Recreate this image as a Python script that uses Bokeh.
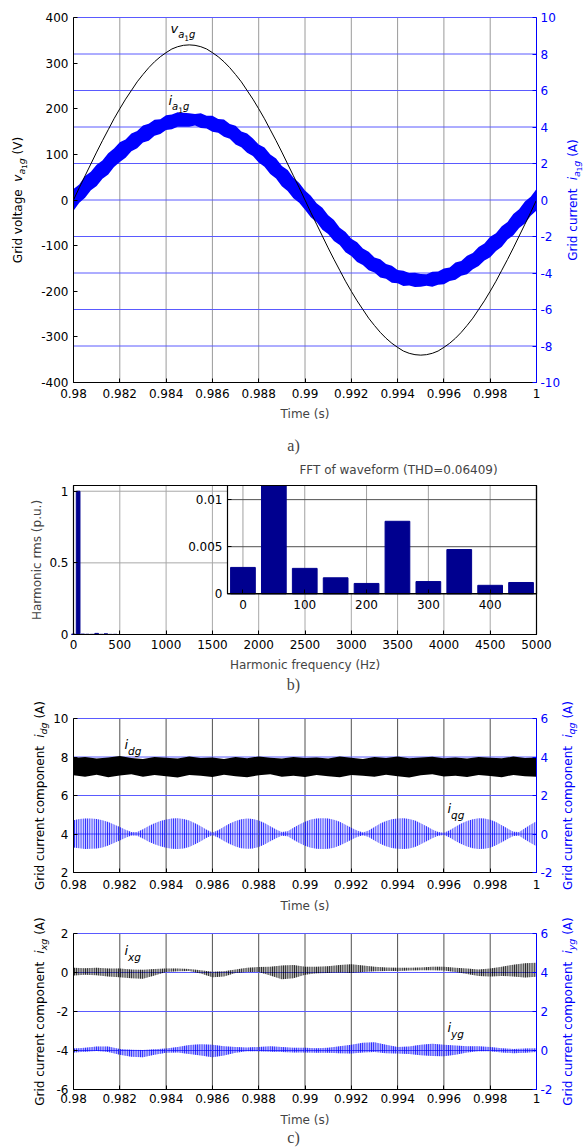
from math import pi
import numpy as np
from bokeh.plotting import figure
from bokeh.models import Range1d, LinearAxis, FixedTicker, Label, CustomJSTickFormatter
from bokeh.layouts import column
from bokeh.embed import file_html
from bokeh.resources import INLINE

# ---------------- data ----------------
t_fine = np.linspace(0.98, 1.0, 81)      # 0.25 ms sampling
t_coarse = np.linspace(0.98, 1.0, 41)    # 0.5 ms sampling

# a) grid voltage (V) and the envelope of the grid current ripple band (A)
v_a1g = [0, 27, 53, 79, 105, 130, 154, 178, 200, 221, 240, 259, 275, 290, 303, 314, 323, 331, 336, 339,
         340, 339, 336, 331, 323, 314, 303, 290, 275, 259, 240, 221, 200, 178, 154, 130, 105, 79, 53, 27,
         0, -27, -53, -79, -105, -130, -154, -178, -200, -221, -240, -259, -275, -290, -303, -314, -323,
         -331, -336, -339, -340, -339, -336, -331, -323, -314, -303, -290, -275, -259, -240, -221, -200,
         -178, -154, -130, -105, -79, -53, -27, 0]
i_a1g_upper = [0.60, 0.85, 1.31, 1.55, 1.93, 2.16, 2.56, 2.82, 3.16, 3.32, 3.65, 3.78, 4.08, 4.18, 4.40,
               4.43, 4.64, 4.68, 4.81, 4.78, 4.76,
               4.71, 4.75, 4.61, 4.61, 4.44, 4.41, 4.17, 4.07, 3.76, 3.64, 3.37, 3.04, 2.88, 2.49, 2.27,
               1.86, 1.64, 1.22, 0.93, 0.52,
               0.23, -0.18, -0.43, -0.84, -1.09, -1.52, -1.75, -2.12, -2.31, -2.66, -2.83, -3.15, -3.25,
               -3.51, -3.60, -3.83, -3.87, -4.00, -3.98, -4.05,
               -4.07, -3.93, -3.92, -3.75, -3.70, -3.43, -3.34, -3.06, -2.91, -2.58, -2.38, -2.02, -1.82,
               -1.44, -1.20, -0.77, -0.51, -0.08, 0.18, 0.60]
i_a1g_lower = [-0.59, -0.15, 0.12, 0.54, 0.77, 1.17, 1.40, 1.81, 2.08, 2.32, 2.67, 2.84, 3.15, 3.25, 3.52,
               3.61, 3.84, 3.88, 4.02, 4.01, 4.02,
               4.08, 3.95, 3.92, 3.74, 3.69, 3.46, 3.36, 3.04, 2.89, 2.59, 2.41, 2.05, 1.82, 1.42, 1.18,
               0.76, 0.50, 0.10, -0.15, -0.53,
               -0.94, -1.21, -1.63, -1.86, -2.25, -2.47, -2.86, -3.07, -3.40, -3.56, -3.85, -3.97, -4.24,
               -4.32, -4.54, -4.56, -4.71, -4.68, -4.77, -4.75,
               -4.70, -4.75, -4.64, -4.61, -4.44, -4.37, -4.15, -4.07, -3.79, -3.62, -3.31, -3.14, -2.79,
               -2.56, -2.17, -1.93, -1.53, -1.29, -0.86, -0.57]

# b) harmonic spectrum (p.u. of fundamental)
harm_freq = [0, 50, 100, 150, 200, 250, 300, 350, 400, 450]
harm_rms = [0.0028, 1.0, 0.0027, 0.0017, 0.0011, 0.0077, 0.0013, 0.0047, 0.0009, 0.0012]

# c) dq and xy current components: envelopes of the ripple bands (A)
idg_upper = [7.95, 8.0, 7.92, 7.98, 8.05, 7.95, 7.9, 8.0, 7.96, 7.92, 8.02, 7.95, 7.98, 7.9, 8.0, 7.94,
             8.03, 7.96, 7.92, 8.0, 7.95, 7.98, 7.92, 8.02, 7.96, 7.9, 8.0, 7.95, 8.03, 7.93, 7.97, 8.01,
             7.94, 7.98, 7.92, 8.0, 7.96, 7.93, 8.02, 7.95, 7.98]
idg_lower = [7.05, 6.98, 7.08, 6.95, 7.04, 7.1, 6.97, 7.06, 7.0, 6.94, 7.07, 7.02, 6.96, 7.08, 7.0, 6.95,
             7.05, 7.1, 6.98, 7.03, 6.96, 7.07, 7.0, 6.95, 7.06, 7.02, 6.97, 7.08, 7.0, 6.94, 7.05, 7.1,
             6.99, 7.03, 6.96, 7.06, 7.01, 6.95, 7.07, 7.0, 6.98]
iqg_upper = [0.72, 0.78, 0.80, 0.80, 0.78, 0.72, 0.62, 0.50, 0.36, 0.22, 0.10, 0.10, 0.25, 0.42, 0.56,
             0.67, 0.75, 0.80, 0.82, 0.78, 0.70, 0.56, 0.40, 0.22, 0.08, 0.20, 0.38, 0.55, 0.68, 0.77,
             0.80, 0.78, 0.70, 0.57, 0.40, 0.24, 0.10, 0.14, 0.32, 0.50, 0.64, 0.75, 0.80, 0.82, 0.80,
             0.74, 0.63, 0.48, 0.32, 0.18, 0.08, 0.18, 0.36, 0.54, 0.67, 0.76, 0.80, 0.82, 0.78, 0.70,
             0.56, 0.40, 0.24, 0.10, 0.06, 0.20, 0.38, 0.55, 0.68, 0.77, 0.82, 0.80, 0.74, 0.62, 0.46,
             0.28, 0.12, 0.10, 0.30, 0.50, 0.66]
iqg_lower = [-0.70, -0.74, -0.78, -0.77, -0.75, -0.70, -0.60, -0.47, -0.34, -0.20, -0.08, -0.09, -0.23,
             -0.40, -0.53, -0.64, -0.72, -0.77, -0.78, -0.75, -0.67, -0.53, -0.38, -0.20, -0.07, -0.18,
             -0.36, -0.52, -0.65, -0.74, -0.77, -0.75, -0.67, -0.54, -0.38, -0.22, -0.09, -0.12, -0.30,
             -0.47, -0.61, -0.72, -0.77, -0.78, -0.77, -0.71, -0.60, -0.45, -0.30, -0.16, -0.07, -0.16,
             -0.34, -0.51, -0.64, -0.73, -0.77, -0.78, -0.75, -0.67, -0.53, -0.38, -0.22, -0.09, -0.05,
             -0.18, -0.36, -0.52, -0.65, -0.74, -0.78, -0.77, -0.71, -0.59, -0.43, -0.26, -0.10, -0.09,
             -0.28, -0.47, -0.63]
ixg_upper = [0.25, 0.22, 0.25, 0.2, 0.2, 0.15, 0.14, 0.18, 0.2, 0.2, 0.18, 0.12, 0.04, 0.06, 0.15, 0.24,
             0.28, 0.3, 0.36, 0.38, 0.3, 0.3, 0.32, 0.38, 0.42, 0.36, 0.3, 0.26, 0.24, 0.24, 0.26, 0.3,
             0.3, 0.24, 0.2, 0.16, 0.2, 0.3, 0.4, 0.48, 0.5]
ixg_lower = [-0.15, -0.12, -0.14, -0.2, -0.24, -0.3, -0.32, -0.15, 0.02, 0.06, 0.08, -0.05, -0.24, -0.2,
             -0.02, 0.02, 0.02, -0.15, -0.35, -0.3, -0.12, -0.04, -0.02, 0.0, -0.02, 0.02, 0.06, 0.08,
             0.08, 0.1, 0.12, 0.12, 0.1, 0.02, -0.08, -0.18, -0.2, -0.18, -0.2, -0.26, -0.22]
iyg_upper = [0.1, 0.14, 0.2, 0.2, 0.08, 0.04, 0.02, 0.06, 0.1, 0.18, 0.28, 0.32, 0.3, 0.22, 0.18, 0.16,
             0.18, 0.22, 0.18, 0.14, 0.14, 0.12, 0.14, 0.22, 0.3, 0.4, 0.42, 0.3, 0.18, 0.2, 0.3, 0.34,
             0.3, 0.26, 0.22, 0.22, 0.18, 0.12, 0.08, 0.1, 0.12]
iyg_lower = [-0.1, -0.06, -0.02, -0.08, -0.22, -0.32, -0.34, -0.22, -0.12, -0.1, -0.18, -0.26, -0.34,
             -0.26, -0.12, -0.04, -0.04, -0.06, -0.08, -0.1, -0.1, -0.12, -0.12, -0.14, -0.16, -0.1,
             -0.08, -0.14, -0.16, -0.18, -0.24, -0.28, -0.3, -0.22, -0.1, -0.04, -0.04, -0.1, -0.14,
             -0.12, -0.08]

# tick values
time_ticks = [0.98, 0.982, 0.984, 0.986, 0.988, 0.99, 0.992, 0.994, 0.996, 0.998, 1.0]
volt_ticks = [-400, -300, -200, -100, 0, 100, 200, 300, 400]
amp_ticks_a = [-10, -8, -6, -4, -2, 0, 2, 4, 6, 8, 10]
freq_ticks = [0, 500, 1000, 1500, 2000, 2500, 3000, 3500, 4000, 4500, 5000]
rms_ticks = [0, 0.5, 1]
inset_x_ticks = [0, 100, 200, 300, 400]
inset_y_ticks = [0, 0.005, 0.01]
dg_ticks = [2, 4, 6, 8, 10]
qg_ticks = [-2, 0, 2, 4, 6]
xg_ticks = [-6, -4, -2, 0, 2]
yg_ticks = [-2, 0, 2, 4, 6]

# ---------------- styling / layout helpers ----------------
W = 583
BL, BR = 73, 536          # plot box left / right edge on the page
FONT = "DejaVu Sans"
TICK_PX = "12px"
BLUE = "#0000ff"
GRID_BLUE = "#5a5aff"
NAVY = "#00008f"

# DejaVu Sans advance widths (1/1000 em) for laying out mixed-style labels
DV = {' ': 318, '(': 390, ')': 390, '.': 318, 'A': 684, 'G': 775, 'V': 684, 'a': 613, 'c': 550,
      'd': 635, 'e': 615, 'g': 635, 'i': 278, 'l': 278, 'm': 974, 'n': 634, 'o': 612, 'p': 635,
      'q': 635, 'r': 411, 't': 392, 'u': 634, 'v': 592, 'x': 592, 'y': 592}
for _d in "0123456789":
    DV[_d] = 636


def tw(s, size):
    return sum(DV.get(c, 600) for c in s) * size / 1000.0


class Panel:
    """A figure whose frame fills the canvas; the plot box is placed by the ranges."""

    def __init__(self, fig_top, fig_h, box_top, box_bot, xr, yr, left=BL, right=BR):
        self.top, self.h = fig_top, fig_h
        self.box_top, self.box_bot = box_top, box_bot
        self.left, self.right = left, right
        self.p = figure(width=W, height=fig_h, x_range=self.xrange(xr), y_range=self.yrange(yr),
                        output_backend="svg", toolbar_location=None, title=None, min_border=0,
                        x_axis_location=None, y_axis_location=None)
        self.p.xgrid.visible = False
        self.p.ygrid.visible = False
        self.p.outline_line_color = None
        self.p.background_fill_color = "white"
        self.p.border_fill_color = "white"

    def xrange(self, xr, left=None, right=None):
        left = self.left if left is None else left
        right = self.right if right is None else right
        s = (xr[1] - xr[0]) / (right - left)
        return Range1d(xr[0] - left * s, xr[1] + (W - right) * s)

    def yrange(self, yr, top=None, bot=None):
        top = self.box_top if top is None else top
        bot = self.box_bot if bot is None else bot
        s = (yr[1] - yr[0]) / (bot - top)
        return Range1d(yr[0] - (self.top + self.h - bot) * s, yr[1] + (top - self.top) * s)

    def text(self, px, py, text, **kw):
        kw.setdefault("text_font", FONT)
        kw.setdefault("text_font_size", TICK_PX)
        self.p.add_layout(Label(x=px, y=self.top + self.h - py, x_units="screen", y_units="screen",
                                text=text, **kw))

    def rich(self, runs, x0, y0, vertical=False, color="black", centered=False):
        """Label made of runs (text, size, style, baseline shift)."""
        total = sum(tw(r[0], r[1]) for r in runs)
        pos = -total / 2 if centered else 0.0
        for txt, size, style, shift in runs:
            lead = tw(txt[:len(txt) - len(txt.lstrip())], size)
            start = pos + lead
            if vertical:
                px, py = x0 + shift, y0 - start
            else:
                px, py = x0 + start, y0 + shift
            if txt.strip():
                self.text(px, py, txt.strip(), angle=pi / 2 if vertical else 0,
                          text_font_size=f"{size}px", text_font_style=style, text_color=color,
                          text_align="left", text_baseline="alphabetic")
            pos += tw(txt, size)

    def caption(self, txt, px, py):
        self.text(px, py, txt, text_font="Liberation Serif", text_font_size="16px",
                  text_align="center", text_baseline="middle")

    def axis(self, side, ticks, color="black", standoff=5, x_range_name="default",
             y_range_name="default", loc=None, bounds=None):
        ax = LinearAxis(x_range_name=x_range_name, y_range_name=y_range_name,
                        ticker=FixedTicker(ticks=ticks), fixed_location=loc, bounds=bounds)
        ax.axis_line_color = color
        ax.major_tick_line_color = color
        ax.major_tick_in = 4
        ax.major_tick_out = 0
        ax.minor_tick_line_color = None
        ax.major_label_text_color = color
        ax.major_label_text_font = FONT
        ax.major_label_text_font_size = TICK_PX
        ax.major_label_standoff = standoff
        ax.formatter = CustomJSTickFormatter(code="return String(+tick.toFixed(6));")
        self.p.add_layout(ax, side)
        return ax

    def vlines(self, xs, lo, hi, color, **kw):
        self.p.segment(x0=xs, y0=[lo] * len(xs), x1=xs, y1=[hi] * len(xs), line_color=color,
                       line_width=1, **kw)

    def hlines(self, ys, lo, hi, color, **kw):
        self.p.segment(x0=[lo] * len(ys), y0=ys, x1=[hi] * len(ys), y1=ys, line_color=color,
                       line_width=1, **kw)


def time_panel(fig_top, fig_h, box_top, box_bot, yr, yr2, lticks, rticks, vgrid_color, xstandoff):
    P = Panel(fig_top, fig_h, box_top, box_bot, (0.98, 1.0), yr)
    P.p.extra_y_ranges = {"r": P.yrange(yr2)}
    P.vlines(time_ticks, yr[0], yr[1], vgrid_color)
    P.hlines(rticks, 0.98, 1.0, GRID_BLUE, y_range_name="r")
    P.axis("left", lticks, loc=0.98, bounds=yr)
    P.axis("below", time_ticks, loc=yr[0], bounds=(0.98, 1.0), standoff=xstandoff)
    P.axis("right", rticks, color=BLUE, standoff=4, y_range_name="r", loc=1.0, bounds=yr2)
    return P


# ---------------- a) grid voltage and current ----------------
A = time_panel(0, 458, 17, 382, (-400, 400), (-10, 10), volt_ticks, amp_ticks_a, "#9a9a9a", 6)
A.p.varea(x=t_fine, y1=i_a1g_lower, y2=i_a1g_upper, y_range_name="r", fill_color=BLUE)
A.p.line(t_fine, v_a1g, line_color="black", line_width=1)
A.rich([("v", 13, "italic", 0), ("a", 10, "italic", 6), ("1", 7.5, "normal", 9),
        ("g", 10, "italic", 6)], 170, 28)
A.rich([("i", 13, "italic", 0), ("a", 10, "italic", 6), ("1", 7.5, "normal", 9),
        ("g", 10, "italic", 6)], 168, 100)
A.rich([("Grid voltage  ", 12, "normal", 0), ("v", 12, "italic", 0), ("a", 9.5, "italic", 4),
        ("1", 7, "normal", 6.5), ("g", 9.5, "italic", 4), (" (V)", 12, "normal", 0)],
       17, 199.5, vertical=True, centered=True)
A.rich([("Grid current  ", 12, "normal", 0), ("i", 12, "italic", 0), ("a", 9.5, "italic", 4),
        ("1", 7, "normal", 6.5), ("g", 9.5, "italic", 4), (" (A)", 12, "normal", 0)],
       572, 199.5, vertical=True, color=BLUE, centered=True)
A.text(304.5, 413, "Time (s)", text_align="center", text_baseline="middle")
A.caption("a)", 293, 445)

# ---------------- b) harmonic spectrum with zoomed inset ----------------
B = Panel(458, 242, 485, 634, (0, 5000), (0, 1.04))
pb = B.p
B.vlines(freq_ticks, 0, 1.04, "#a8a8a8")
B.hlines(rms_ticks[1:], 0, 5000, "#a8a8a8")
pb.vbar(x=harm_freq, top=harm_rms, width=40, fill_color=NAVY, line_color=NAVY)

# inset occupying the upper right corner of the plot box
ix_lo, ix_hi = -25, 475
iy_lo, iy_hi = 0, 0.0115
INSET_LEFT, INSET_BOTTOM = 227, 593.3
pb.extra_x_ranges = {"ix": B.xrange((ix_lo, ix_hi), left=INSET_LEFT)}
pb.extra_y_ranges = {"iy": B.yrange((iy_lo, iy_hi), bot=INSET_BOTTOM)}
inset = dict(x_range_name="ix", y_range_name="iy")
pb.quad(left=[ix_lo], right=[ix_hi], bottom=[iy_lo], top=[iy_hi], fill_color="white",
        line_color=None, **inset)
B.vlines(inset_x_ticks, iy_lo, iy_hi, "#a0a0a0", **inset)
B.hlines(inset_y_ticks[1:], ix_lo, ix_hi, "#505050", **inset)
inset_bar_top = [min(v, iy_hi) for v in harm_rms]     # bars end at the inset's upper edge
pb.vbar(x=harm_freq, top=inset_bar_top, width=40, fill_color=NAVY, line_color=NAVY, **inset)
pb.quad(left=[ix_lo], right=[ix_hi], bottom=[iy_lo], top=[iy_hi], fill_color=None,
        line_color="black", line_width=1.2, **inset)
B.axis("left", inset_y_ticks, loc=ix_lo, bounds=(iy_lo, iy_hi), **inset)
B.axis("below", inset_x_ticks, loc=iy_lo, bounds=(ix_lo, ix_hi), standoff=6, **inset)

# main box
pb.quad(left=[0], right=[5000], bottom=[0], top=[1.04], fill_color=None, line_color="black",
        line_width=1.2)
B.axis("left", rms_ticks, loc=0, bounds=(0, 1.04))
B.axis("below", freq_ticks, loc=0, bounds=(0, 5000), standoff=5)
B.text(398, 469, "FFT of waveform (THD=0.06409)", text_align="center", text_baseline="middle")
B.text(36, 559.5, "Harmonic rms (p.u.)", angle=pi / 2, text_align="center", text_baseline="middle")
B.text(304.5, 664, "Harmonic frequency (Hz)", text_align="center", text_baseline="middle")
B.caption("b)", 293, 684)

# ---------------- c) d/q components ----------------
C = time_panel(700, 215, 718, 872, (2, 10), (-2, 6), dg_ticks, qg_ticks, "#505050", 7)
C.p.varea(x=t_coarse, y1=idg_lower, y2=idg_upper, fill_color="black")
C.p.varea(x=t_fine, y1=iqg_lower, y2=iqg_upper, y_range_name="r", fill_color=BLUE, fill_alpha=0.2,
          hatch_pattern="vertical_line", hatch_color=BLUE, hatch_scale=2.2, hatch_weight=1)
C.rich([("i", 13, "italic", 0), ("dg", 10.5, "italic", 6)], 124, 744)
C.rich([("i", 13, "italic", 0), ("qg", 10.5, "italic", 6)], 447, 808)
C.rich([("Grid current component  ", 12, "normal", 0), ("i", 12, "italic", 0),
        ("dg", 9.5, "italic", 4), (" (A)", 12, "normal", 0)], 39, 795, vertical=True, centered=True)
C.rich([("Grid current component  ", 12, "normal", 0), ("i", 12, "italic", 0),
        ("qg", 9.5, "italic", 4), (" (A)", 12, "normal", 0)], 567, 795, vertical=True, color=BLUE,
       centered=True)
C.text(304.5, 905, "Time (s)", text_align="center", text_baseline="middle")

# ---------------- c) x/y components ----------------
D = time_panel(915, 232, 933, 1089, (-6, 2), (-2, 6), xg_ticks, yg_ticks, "#505050", 4)
D.p.varea(x=t_coarse, y1=ixg_lower, y2=ixg_upper, fill_color="black", fill_alpha=0.3,
          hatch_pattern="vertical_line", hatch_color="black", hatch_scale=2.2, hatch_weight=1)
D.p.varea(x=t_coarse, y1=iyg_lower, y2=iyg_upper, y_range_name="r", fill_color=BLUE, fill_alpha=0.3,
          hatch_pattern="vertical_line", hatch_color=BLUE, hatch_scale=2.2, hatch_weight=1)
D.rich([("i", 13, "italic", 0), ("xg", 10.5, "italic", 6)], 124, 950)
D.rich([("i", 13, "italic", 0), ("yg", 10.5, "italic", 6)], 447, 1027)
D.rich([("Grid current component  ", 12, "normal", 0), ("i", 12, "italic", 0),
        ("xg", 9.5, "italic", 4), (" (A)", 12, "normal", 0)], 39, 1011, vertical=True, centered=True)
D.rich([("Grid current component  ", 12, "normal", 0), ("i", 12, "italic", 0),
        ("yg", 9.5, "italic", 4), (" (A)", 12, "normal", 0)], 567, 1011, vertical=True, color=BLUE,
       centered=True)
D.text(304.5, 1119, "Time (s)", text_align="center", text_baseline="middle")
D.caption("c)", 293, 1137)

layout = column(A.p, B.p, C.p, D.p, spacing=0)
open("out.html", "w").write(file_html(layout, INLINE, title="Grid current waveforms"))
